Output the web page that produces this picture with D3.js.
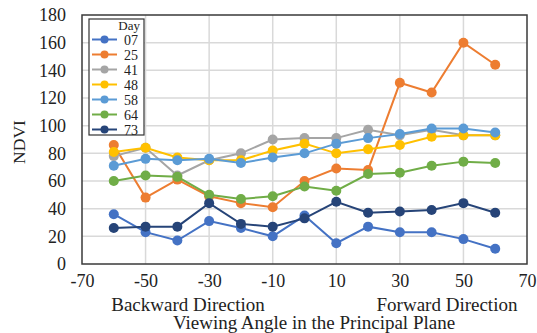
<!DOCTYPE html>
<html>
<head>
<meta charset="utf-8">
<script src="https://cdn.jsdelivr.net/npm/d3@7"></script>
<style>
  body { margin: 0; background: #fff; }
  text { font-family: "Liberation Serif", "Times New Roman", serif; fill: #222; }
</style>
</head>
<body>
<div id="chart"></div>
<script>
// Viewing angles (degrees) and NDVI per day
const angles = [-60, -50, -40, -30, -20, -10, 0, 10, 20, 30, 40, 50, 60];
const days = ["07", "25", "41", "48", "58", "64", "73"];
const day07 = [36, 23, 17, 31, 26, 20, 35, 15, 27, 23, 23, 18, 11];
const day25 = [86, 48, 61, 49, 44, 41, 60, 69, 68, 131, 124, 160, 144];
const day41 = [78, 84, 64, 75, 80, 90, 91, 91, 97, 93, 97, 93, 93];
const day48 = [81, 84, 77, 75, 75, 82, 87, 80, 83, 86, 92, 93, 93];
const day58 = [71, 76, 75, 76, 73, 77, 80, 87, 91, 94, 98, 98, 95];
const day64 = [60, 64, 63, 50, 47, 49, 56, 53, 65, 66, 71, 74, 73];
const day73 = [26, 27, 27, 44, 29, 27, 33, 45, 37, 38, 39, 44, 37];
const seriesValues = [day07, day25, day41, day48, day58, day64, day73];
const colors = ["#4472C4", "#ED7D31", "#A5A5A5", "#FFC000", "#5B9BD5", "#70AD47", "#264478"];
const xTicks = [-70, -50, -30, -10, 10, 30, 50, 70];
const yTicks = [0, 20, 40, 60, 80, 100, 120, 140, 160, 180];

const W = 537, H = 333;
const margin = { top: 15, right: 10, bottom: 69, left: 82 },
    width = 527 - margin.left,
    height = 264 - margin.top;

const svg = d3.select("#chart").append("svg")
    .attr("width", W).attr("height", H);
const g = svg.append("g")
    .attr("transform", `translate(${margin.left},${margin.top})`);

const x = d3.scaleLinear().domain([-70, 70]).range([0, width]);
const y = d3.scaleLinear().domain([0, 180]).range([height, 0]);

// Grid
g.append("g").selectAll("line")
    .data(xTicks.slice(1, -1))
    .join("line")
    .attr("x1", d => x(d)).attr("x2", d => x(d))
    .attr("y1", 0).attr("y2", height)
    .attr("stroke", "#d9d9d9").attr("stroke-width", 1.5);
g.append("g").selectAll("line")
    .data(yTicks.slice(1, -1))
    .join("line")
    .attr("y1", d => y(d)).attr("y2", d => y(d))
    .attr("x1", 0).attr("x2", width)
    .attr("stroke", "#d9d9d9").attr("stroke-width", 1.5);

// Plot border
g.append("rect")
    .attr("width", width).attr("height", height)
    .attr("fill", "none").attr("stroke", "#3a3a3a").attr("stroke-width", 1.5);

// Axes (labels only)
const yAxis = g.append("g")
    .call(d3.axisLeft(y).tickValues(yTicks).tickSize(0).tickPadding(16));
yAxis.select(".domain").remove();
yAxis.selectAll("text").style("font-size", "18px").attr("fill", "#222");

const xAxis = g.append("g")
    .attr("transform", `translate(0,${height})`)
    .call(d3.axisBottom(x).tickValues(xTicks).tickSize(0).tickPadding(10)
        .tickFormat(d => d < 0 ? "-" + Math.abs(d) : d));
xAxis.select(".domain").remove();
xAxis.selectAll("text").style("font-size", "18px").attr("fill", "#222");

// Series
const line = d3.line().x((d, i) => x(angles[i])).y(d => y(d));
seriesValues.forEach((vals, k) => {
    g.append("path")
        .datum(vals)
        .attr("fill", "none")
        .attr("stroke", colors[k])
        .attr("stroke-width", 2)
        .attr("d", line);
    g.append("g").selectAll("circle")
        .data(vals)
        .join("circle")
        .attr("cx", (d, i) => x(angles[i]))
        .attr("cy", d => y(d))
        .attr("r", 5)
        .attr("fill", colors[k]);
});

// Legend
const legend = svg.append("g").attr("transform", "translate(89,19)");
legend.append("rect")
    .attr("width", 55).attr("height", 116)
    .attr("fill", "#fff").attr("stroke", "#333").attr("stroke-width", 1.2);
legend.append("text")
    .attr("x", 51).attr("y", 11)
    .attr("text-anchor", "end")
    .style("font-size", "13px")
    .text("Day");
days.forEach((dname, k) => {
    const row = legend.append("g").attr("transform", `translate(0,${20.5 + k * 15})`);
    row.append("line")
        .attr("x1", 3).attr("x2", 28)
        .attr("stroke", colors[k]).attr("stroke-width", 2);
    row.append("circle").attr("cx", 15.5).attr("r", 4).attr("fill", colors[k]);
    row.append("text")
        .attr("x", 49).attr("dy", "0.36em")
        .attr("text-anchor", "end")
        .style("font-size", "14px")
        .text(dname);
});

// Axis titles
svg.append("text")
    .attr("transform", "translate(25,142) rotate(-90)")
    .attr("text-anchor", "middle")
    .style("font-size", "17.5px")
    .text("NDVI");
svg.append("text")
    .attr("x", 188).attr("y", 311)
    .attr("text-anchor", "middle")
    .style("font-size", "19px")
    .text("Backward Direction");
svg.append("text")
    .attr("x", 447).attr("y", 311)
    .attr("text-anchor", "middle")
    .style("font-size", "19px")
    .text("Forward Direction");
svg.append("text")
    .attr("x", 314).attr("y", 329)
    .attr("text-anchor", "middle")
    .style("font-size", "19px")
    .text("Viewing Angle in the Principal Plane");
</script>
</body>
</html>
